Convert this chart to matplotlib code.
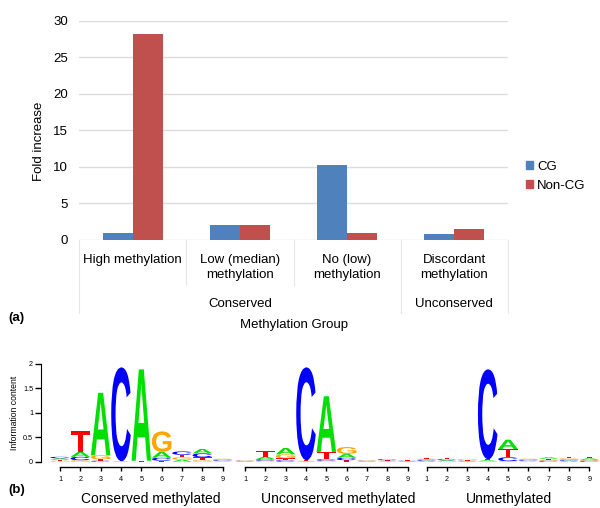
import matplotlib
matplotlib.use("Agg")
import matplotlib.pyplot as plt
import numpy as np
from matplotlib.textpath import TextPath
from matplotlib.font_manager import FontProperties
from matplotlib.patches import PathPatch, Patch
from matplotlib.lines import Line2D
from matplotlib.transforms import Affine2D

plt.rcParams['font.family'] = ['Liberation Sans', 'DejaVu Sans']

# ---- panel (a) data ----
groups = ["High methylation", "Low (median)\nmethylation",
          "No (low)\nmethylation", "Discordant\nmethylation"]
cg_values = [1.0, 2.0, 10.3, 0.8]
noncg_values = [28.2, 2.0, 1.0, 1.45]
series_names = ["CG", "Non-CG"]
yticks_a = [0, 5, 10, 15, 20, 25, 30]

# ---- panel (b) data: letter heights (bits) at positions 1..9 ----
positions = [1, 2, 3, 4, 5, 6, 7, 8, 9]
cons_A = [0.03, 0.10, 1.28, 0.01, 1.87, 0.12, 0.04, 0.09, 0.01]
cons_C = [0.03, 0.07, 0.02, 1.92, 0.00, 0.06, 0.07, 0.08, 0.02]
cons_G = [0.02, 0.03, 0.08, 0.00, 0.00, 0.42, 0.05, 0.03, 0.02]
cons_T = [0.02, 0.42, 0.03, 0.00, 0.02, 0.02, 0.05, 0.06, 0.01]

uncons_A = [0.01, 0.05, 0.13, 0.01, 1.14, 0.08, 0.01, 0.01, 0.01]
uncons_C = [0.01, 0.03, 0.03, 1.90, 0.03, 0.05, 0.01, 0.02, 0.01]
uncons_G = [0.01, 0.02, 0.08, 0.01, 0.02, 0.14, 0.01, 0.01, 0.00]
uncons_T = [0.01, 0.12, 0.04, 0.01, 0.15, 0.03, 0.01, 0.01, 0.01]

unmeth_A = [0.02, 0.02, 0.01, 0.02, 0.19, 0.01, 0.03, 0.02, 0.03]
unmeth_C = [0.02, 0.02, 0.01, 1.84, 0.08, 0.02, 0.02, 0.02, 0.02]
unmeth_G = [0.02, 0.01, 0.02, 0.01, 0.01, 0.02, 0.02, 0.03, 0.02]
unmeth_T = [0.02, 0.02, 0.01, 0.02, 0.17, 0.01, 0.02, 0.03, 0.03]

logo_titles = ["Conserved methylated", "Unconserved methylated", "Unmethylated"]
letter_colors = {"A": "#00E000", "C": "#0000FF", "G": "#FFA500", "T": "#FF0000"}

W, H = 600, 508
fig = plt.figure(figsize=(W / 100, H / 100), dpi=100)


def rect(left, top, right, bottom):
    # pixel box -> figure fraction
    return [left / W, 1 - bottom / H, (right - left) / W, (bottom - top) / H]


# ================= panel (a) =================
ax = fig.add_axes(rect(79, 20.7, 508, 240))
x = np.arange(len(groups))
bw = 0.28
ax.bar(x - bw / 2, cg_values, bw, color="#4F81BD", label=series_names[0], zorder=3)
ax.bar(x + bw / 2, noncg_values, bw, color="#C0504D", label=series_names[1], zorder=3)
ax.set_xlim(-0.5, 3.5)
ax.set_ylim(0, 30)
ax.set_yticks(yticks_a)
ax.tick_params(axis="y", length=0, pad=8, labelsize=9.5)
ax.set_xticks([])
ax.yaxis.grid(True, color="#DCDCDC", linewidth=1, zorder=0)
for s in ax.spines.values():
    s.set_visible(False)


def px_to_axfrac(py):
    return -(py - 240) / 219.3


for i, g in enumerate(groups):
    ax.text(i, px_to_axfrac(254), g, transform=ax.get_xaxis_transform(),
            ha="center", va="top", fontsize=9.5, linespacing=1.3)
ax.text(1, px_to_axfrac(304), "Conserved", transform=ax.get_xaxis_transform(),
        ha="center", va="center", fontsize=9.5)
ax.text(3, px_to_axfrac(304), "Unconserved", transform=ax.get_xaxis_transform(),
        ha="center", va="center", fontsize=9.5)
ax.text(1.5, px_to_axfrac(325), "Methylation Group", transform=ax.get_xaxis_transform(),
        ha="center", va="center", fontsize=9.5)

sep = [(-0.5, 313), (0.5, 285), (1.5, 285), (2.5, 313), (3.5, 313)]
for sx, sy in sep:
    ax.add_line(Line2D([sx, sx], [0, px_to_axfrac(sy)], transform=ax.get_xaxis_transform(),
                       color="#E6E6E6", linewidth=0.8, clip_on=False))

fig.text(39 / W, 1 - 141 / H, "Fold increase", rotation=90, ha="center", va="center",
         fontsize=9.5)
fig.text(8 / W, 1 - 318 / H, "(a)", fontweight="bold", ha="left", va="center", fontsize=9.5)

handles = [Patch(color="#4F81BD"), Patch(color="#C0504D")]
fig.legend(handles, series_names, loc="center left", bbox_to_anchor=(526 / W, 1 - 176.5 / H),
           frameon=False, fontsize=9.5, handlelength=0.55, handleheight=0.55,
           handletextpad=0.3, labelspacing=0.55, borderpad=0, borderaxespad=0)

# ================= panel (b) =================
letter_font = FontProperties(family="Liberation Sans", weight="bold")


def draw_letter(axl, ch, xc, y0, h, width=0.96):
    if h <= 0:
        return
    tp = TextPath((0, 0), ch, size=1, prop=letter_font)
    bb = tp.get_extents()
    t = (Affine2D().translate(-bb.x0, -bb.y0)
         .scale(width / bb.width, h / bb.height)
         .translate(xc - width / 2, y0))
    axl.add_patch(PathPatch(t.transform_path(tp), facecolor=letter_colors[ch],
                            edgecolor="none", clip_on=False))


logos = [
    {"A": cons_A, "C": cons_C, "G": cons_G, "T": cons_T},
    {"A": uncons_A, "C": uncons_C, "G": uncons_G, "T": uncons_T},
    {"A": unmeth_A, "C": unmeth_C, "G": unmeth_G, "T": unmeth_T},
]
first_pos_px = [60, 245, 426.7]
step = 20.33
title_x = [151, 338, 509]

for k, logo in enumerate(logos):
    left = first_pos_px[k] - step / 2
    axl = fig.add_axes(rect(left, 364, left + 9 * step, 461.7))
    axl.set_xlim(0.5, 9.5)
    axl.set_ylim(0, 2)
    for j, p in enumerate(positions):
        stack = sorted(((logo[c][j], c) for c in "ACGT"))
        y0 = 0.0
        for h, c in stack:
            draw_letter(axl, c, p, y0, h)
            y0 += h
    for s in ["top", "right"]:
        axl.spines[s].set_visible(False)
    axl.spines["bottom"].set_bounds(1, 9)
    axl.spines["bottom"].set_position(("outward", 3.6))
    axl.spines["bottom"].set_linewidth(1)
    axl.set_xticks(positions)
    axl.tick_params(axis="x", length=3, width=1, labelsize=5.2, pad=3.5)
    if k == 0:
        axl.spines["left"].set_position(("outward", 6.5))
        axl.spines["left"].set_bounds(0, 2)
        axl.set_yticks([0, 0.5, 1, 1.5, 2])
        axl.set_yticklabels(["0", "0.5", "1", "1.5", "2"])
        axl.tick_params(axis="y", length=4, width=1, labelsize=5.2, pad=1.5)
        axl.set_ylabel("Information content", fontsize=6.2, labelpad=3)
    else:
        axl.spines["left"].set_visible(False)
        axl.set_yticks([])
    axl.patch.set_visible(False)
    fig.text(title_x[k] / W, 1 - 499 / H, logo_titles[k], ha="center", va="center",
             fontsize=10)

fig.text(8 / W, 1 - 490 / H, "(b)", fontweight="bold", ha="left", va="center", fontsize=9.5)

fig.savefig("out.png", dpi=100)
